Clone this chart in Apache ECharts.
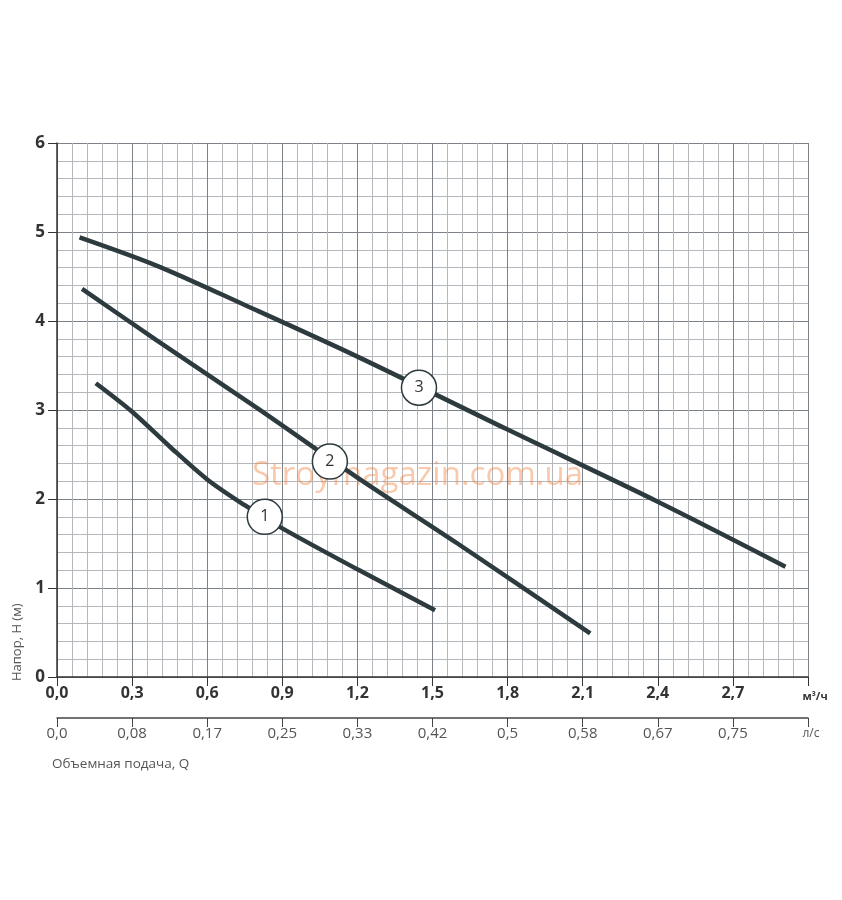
<!DOCTYPE html>
<html><head><meta charset="utf-8">
<script src="https://cdn.jsdelivr.net/npm/echarts@6/dist/echarts.min.js"></script>
<style>html,body{margin:0;padding:0;background:#fff}#c{width:842px;height:900px}</style>
</head><body><div id="c"></div>
<script>
const flowTicksM3h = ['0,0','0,3','0,6','0,9','1,2','1,5','1,8','2,1','2,4','2,7'];
const flowTicksLs = ['0,0','0,08','0,17','0,25','0,33','0,42','0,5','0,58','0,67','0,75'];
const curve1 = [[0.155,3.30],[0.30,2.98],[0.45,2.59],[0.60,2.22],[0.75,1.93],[0.90,1.67],[1.20,1.21],[1.51,0.75]];
const curve2 = [[0.10,4.36],[0.40,3.78],[0.80,3.02],[1.20,2.24],[1.60,1.50],[2.13,0.49]];
const curve3 = [[0.09,4.94],[0.40,4.62],[0.75,4.18],[1.20,3.60],[1.80,2.78],[2.40,1.97],[2.91,1.24]];
const bubbles = [[0.83,1.80,'1'],[1.09,2.42,'2'],[1.446,3.25,'3']];

const lineColor = '#2d3b3f';
const chart = echarts.init(document.getElementById('c'));
function lineSeries(d){return {type:'line',data:d,smooth:0.3,symbol:'none',lineStyle:{color:lineColor,width:4.5},z:3,xAxisIndex:0,yAxisIndex:0};}
chart.setOption({
  animation:false,
  grid:[{left:57,right:34,top:143,bottom:223},{left:57,right:34,top:717,height:1}],
  xAxis:[{
    gridIndex:0,type:'value',min:0,max:3,interval:0.3,
    axisLine:{show:true,onZero:false,lineStyle:{color:'#333',width:1.5}},
    axisTick:{show:true,length:9,lineStyle:{color:'#333'}},
    axisLabel:{margin:8,color:'#333',fontFamily:'Open Sans',fontWeight:'bold',fontSize:16,showMaxLabel:true,
      formatter:function(v){const i=Math.round(v/0.3);return i<flowTicksM3h.length?flowTicksM3h[i]:'{u|м³/ч}';},
      rich:{u:{fontSize:11,fontWeight:'bold',color:'#333',fontFamily:'Open Sans',padding:[6,0,0,14]}}},
    splitLine:{show:true,lineStyle:{color:'#7c8288',width:1}},
    minorTick:{show:false,splitNumber:5},
    minorSplitLine:{show:true,lineStyle:{color:'#b4b8bc',width:1}}
  },{
    gridIndex:1,type:'value',min:0,max:3,interval:0.3,
    axisLine:{show:true,onZero:false,lineStyle:{color:'#444',width:1.5}},
    axisTick:{show:true,length:9,lineStyle:{color:'#444'}},
    axisLabel:{margin:8,color:'#555',fontFamily:'Open Sans',fontSize:15,showMaxLabel:true,
      formatter:function(v){const i=Math.round(v/0.3);return i<flowTicksLs.length?flowTicksLs[i]:'{u|л/с}';},
      rich:{u:{fontSize:12,color:'#555',fontFamily:'Open Sans',padding:[2,0,0,6]}}},
    splitLine:{show:false}
  }],
  yAxis:[{
    gridIndex:0,type:'value',min:0,max:6,interval:1,
    axisLine:{show:true,lineStyle:{color:'#333',width:1.5}},
    axisTick:{show:true,length:9,lineStyle:{color:'#333'}},
    axisLabel:{margin:12,color:'#333',fontFamily:'Open Sans',fontWeight:'bold',fontSize:17},
    splitLine:{show:true,lineStyle:{color:'#7c8288',width:1}},
    minorTick:{show:false,splitNumber:5},
    minorSplitLine:{show:true,lineStyle:{color:'#b4b8bc',width:1}}
  },{gridIndex:1,type:'value',show:false}],
  graphic:[
    {type:'text',x:11,y:681,rotation:Math.PI/2,style:{text:'Напор, H (м)',fill:'#555',font:'13px "Open Sans"'}},
    {type:'text',x:52,y:764,style:{text:'Объемная подача, Q',fill:'#555',font:'13.5px "Open Sans"',textVerticalAlign:'middle'}},
    {type:'text',x:252,y:476,z:2,style:{text:'Stroymagazin.com.ua',fill:'rgba(240,135,70,0.45)',font:'33px "Open Sans"',textVerticalAlign:'middle'}}
  ],
  series:[
    lineSeries(curve1),lineSeries(curve2),lineSeries(curve3),
    {type:'scatter',data:bubbles,symbol:'circle',symbolSize:35,z:5,xAxisIndex:0,yAxisIndex:0,
     itemStyle:{color:'#fff',borderColor:lineColor,borderWidth:1.5,opacity:1},
     label:{show:true,position:'inside',formatter:function(p){return p.data[2];},color:'#333',fontFamily:'Open Sans',fontSize:16}}
  ]
});
</script></body></html>
